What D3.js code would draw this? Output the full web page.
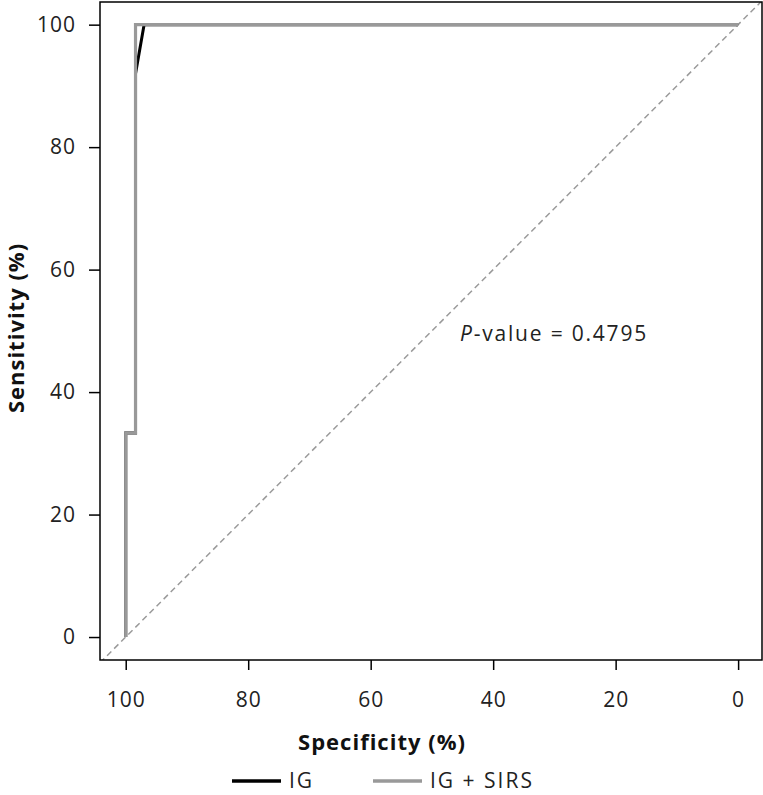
<!DOCTYPE html>
<html>
<head>
<meta charset="utf-8">
<script src="https://cdn.jsdelivr.net/npm/d3@7/dist/d3.min.js"></script>
<style>
  body { margin: 0; background: #fff; }
  text { font-family: "Open Sans", "Noto Sans", sans-serif; }
</style>
</head>
<body>
<div id="chart"></div>
<script>
// ── ROC data (specificity %, sensitivity %) ──
const igSpec = [100, 100, 98.4, 98.4, 97, 0];
const igSens = [0, 33.3, 33.3, 92, 100, 100];
const sirsSpec = [100, 100, 98.4, 98.4, 0];
const sirsSens = [0, 33.3, 33.3, 100, 100];
const xTicks = [100, 80, 60, 40, 20, 0];
const yTicks = [0, 20, 40, 60, 80, 100];
const pLabel = "0.4795";

const width = 763, height = 795;
const mLeft = 100, mRight = 762, mTop = 2, mBottom = 660;

const svg = d3.select("#chart").append("svg")
  .attr("width", width).attr("height", height);

const x = d3.scaleLinear().domain([104.2, -3.9]).range([mLeft, mRight]);
const y = d3.scaleLinear().domain([-3.75, 103.7]).range([mBottom, mTop]);

svg.append("defs").append("clipPath").attr("id", "clip")
  .append("rect").attr("x", mLeft).attr("y", mTop)
  .attr("width", mRight - mLeft).attr("height", mBottom - mTop);

// diagonal reference
svg.append("line")
  .attr("clip-path", "url(#clip)")
  .attr("x1", x(104.2)).attr("y1", y(-4.2))
  .attr("x2", x(-3.9)).attr("y2", y(103.9))
  .attr("stroke", "#9a9a9a").attr("stroke-width", 1.5)
  .attr("stroke-dasharray", "6,4");

const line = d3.line().x(d => x(d[0])).y(d => y(d[1]));

svg.append("path")
  .datum(d3.zip(igSpec, igSens))
  .attr("fill", "none").attr("stroke", "#000").attr("stroke-width", 3)
  .attr("d", line);

svg.append("path")
  .datum(d3.zip(sirsSpec, sirsSens))
  .attr("fill", "none").attr("stroke", "#999").attr("stroke-width", 3.2)
  .attr("d", line);

// panel box
svg.append("rect")
  .attr("x", mLeft).attr("y", mTop)
  .attr("width", mRight - mLeft).attr("height", mBottom - mTop)
  .attr("fill", "none").attr("stroke", "#000").attr("stroke-width", 1.5);

// axes
const xAxis = svg.append("g")
  .attr("transform", `translate(0,${mBottom})`)
  .call(d3.axisBottom(x).tickValues(xTicks).tickSize(10).tickPadding(22));
const yAxis = svg.append("g")
  .attr("transform", `translate(${mLeft},0)`)
  .call(d3.axisLeft(y).tickValues(yTicks).tickSize(11).tickPadding(13));

[xAxis, yAxis].forEach(g => {
  g.select(".domain").remove();
  g.selectAll(".tick line").attr("stroke", "#000").attr("stroke-width", 1.5);
  g.selectAll(".tick text").attr("fill", "#222")
    .style("font-family", "'Open Sans', sans-serif").style("font-size", "21px")
    .style("letter-spacing", "1px");
});

// axis titles
svg.append("text")
  .attr("x", 382).attr("y", 750)
  .attr("text-anchor", "middle")
  .attr("font-size", "22px").attr("font-weight", "700")
  .attr("letter-spacing", "1px").attr("fill", "#111")
  .text("Specificity (%)");

svg.append("text")
  .attr("transform", `translate(24,328) rotate(-90)`)
  .attr("text-anchor", "middle")
  .attr("font-size", "22px").attr("font-weight", "700")
  .attr("letter-spacing", "1px").attr("fill", "#111")
  .text("Sensitivity (%)");

// P-value annotation
const pt = svg.append("text")
  .attr("x", 460).attr("y", 341)
  .attr("font-size", "21px").attr("fill", "#222")
  .attr("letter-spacing", "1.8px");
pt.append("tspan").attr("font-style", "italic").text("P");
pt.append("tspan").text("-value = " + pLabel);

// legend
const legend = [
  { name: "IG", color: "#000", x: 232 },
  { name: "IG + SIRS", color: "#999", x: 373 }
];
const lg = svg.append("g").selectAll("g").data(legend).join("g")
  .attr("transform", d => `translate(${d.x},781)`);
lg.append("line")
  .attr("x1", 0).attr("x2", 49)
  .attr("stroke", d => d.color).attr("stroke-width", 3.5);
lg.append("text")
  .attr("x", 57).attr("dy", "0.35em")
  .attr("font-size", "21px").attr("fill", "#222")
  .attr("letter-spacing", "2px")
  .text(d => d.name);
</script>
</body>
</html>
